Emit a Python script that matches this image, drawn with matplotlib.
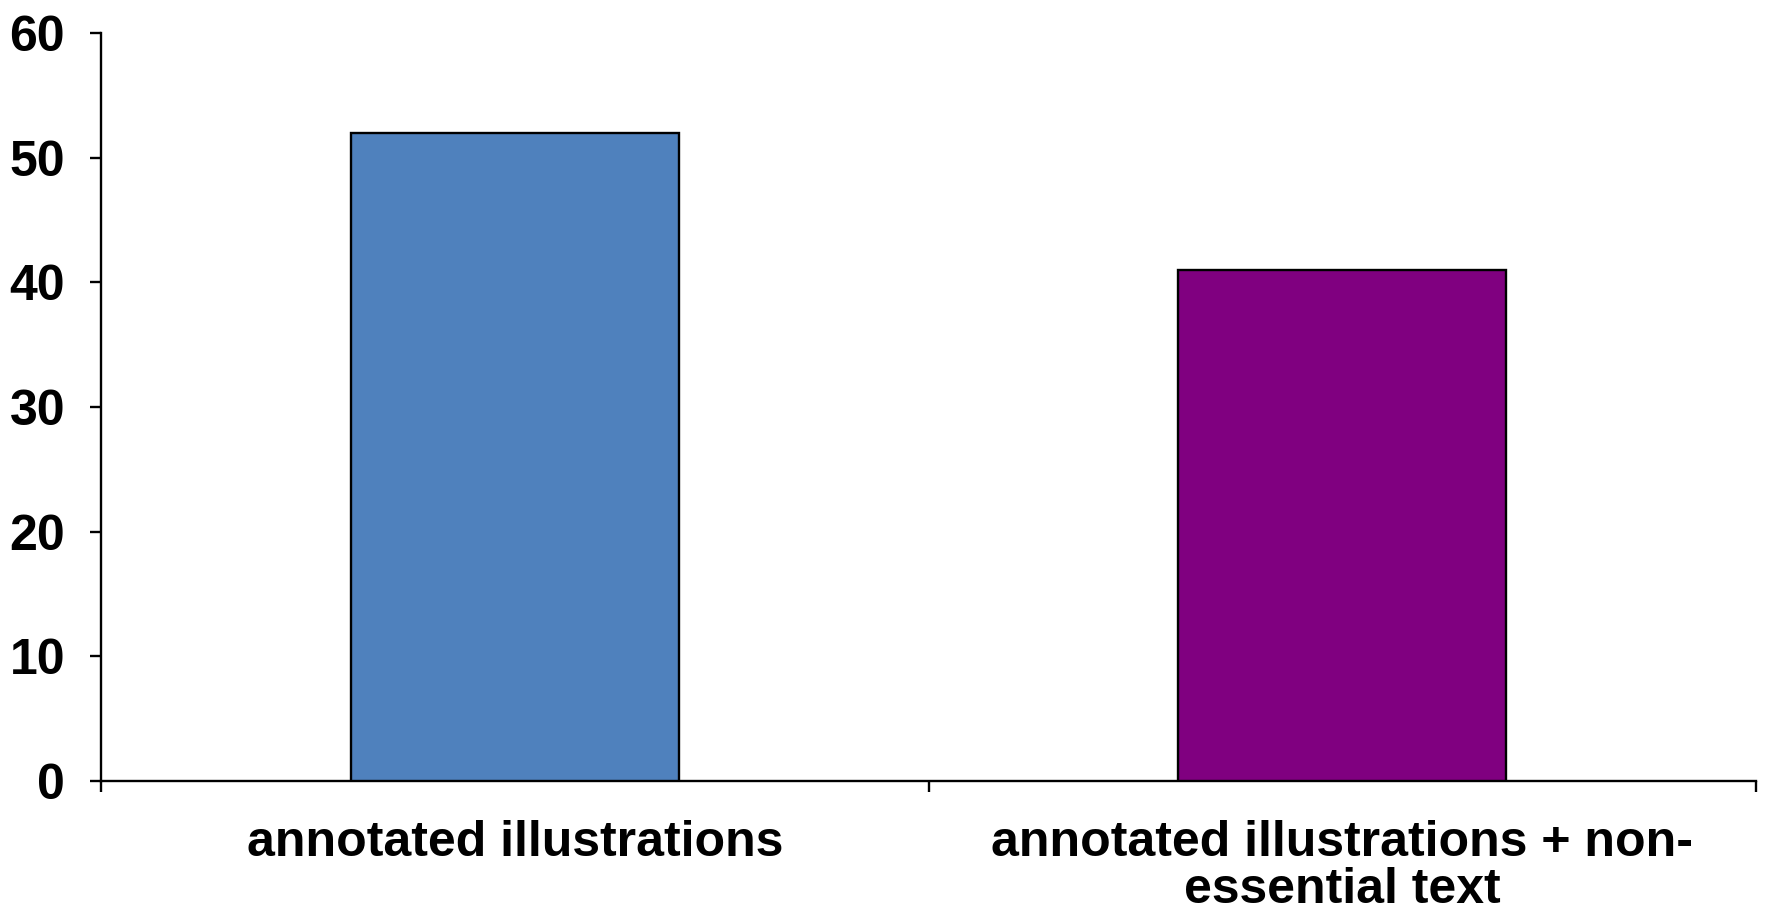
import matplotlib
matplotlib.use("Agg")
import matplotlib.pyplot as plt

categories = ["annotated illustrations", "annotated illustrations + non-\nessential text"]
values = [52, 41]
colors = ["#4F81BD", "#800080"]
yticks = [0, 10, 20, 30, 40, 50, 60]

plt.rcParams['font.family'] = ['Liberation Sans', 'DejaVu Sans']

fig = plt.figure(figsize=(17.67, 9.09), dpi=100)
ax = fig.add_axes([0.0572, 0.1408, 0.9366, 0.8229])

xpos = [0.5, 1.5]
ax.bar(xpos, values, width=0.396, color=colors, edgecolor="black", linewidth=1.7, zorder=3)

ax.set_xlim(0, 2)
ax.set_ylim(0, 60)
ax.set_yticks(yticks)
ax.set_yticklabels([str(v) for v in yticks], fontsize=36, fontweight="bold")
ax.set_xticks([0, 1, 2])
ax.set_xticklabels([])
ax.tick_params(axis="y", direction="out", length=8, width=1.7, pad=18)
ax.tick_params(axis="x", direction="out", length=8, width=1.7)

for x, lab in zip(xpos, categories):
    ax.text(x, -3.1, lab, ha="center", va="top", fontsize=36, fontweight="bold",
            linespacing=1.05, transform=ax.transData)

for s in ["top", "right"]:
    ax.spines[s].set_visible(False)
for s in ["left", "bottom"]:
    ax.spines[s].set_linewidth(1.7)

fig.savefig("out.png", dpi=100)
